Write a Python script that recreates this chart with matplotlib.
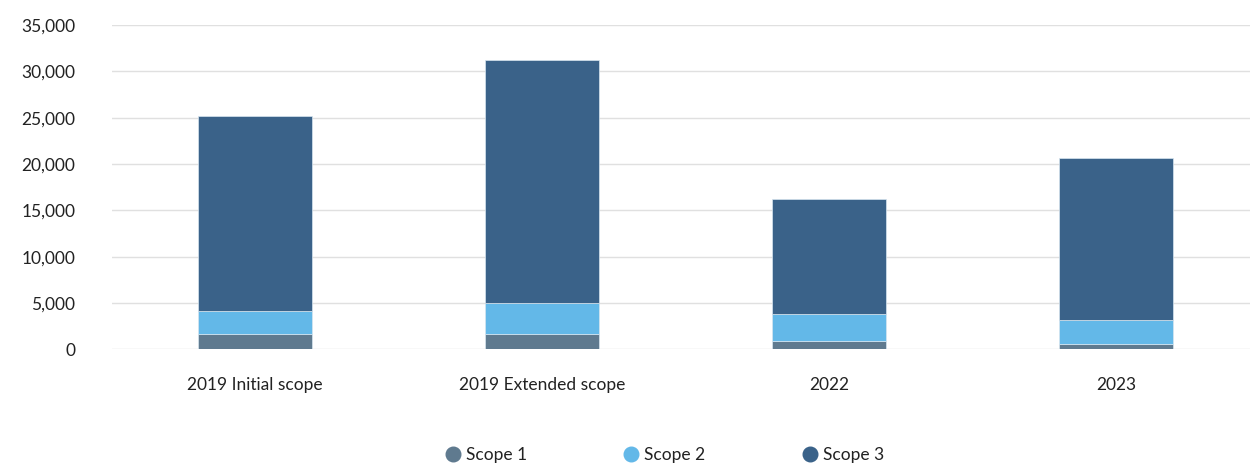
import numpy as np
import matplotlib.pyplot as plt
from matplotlib.lines import Line2D
from matplotlib.ticker import FuncFormatter

categories = ["2019 Initial scope", "2019 Extended scope", "2022", "2023"]
scope1 = [1600, 1600, 920, 600]
scope2 = [2500, 3450, 2840, 2550]
scope3 = [21100, 26150, 12490, 17500]

series = [("Scope 1", scope1, "#5F7A8F"),
          ("Scope 2", scope2, "#63B8E8"),
          ("Scope 3", scope3, "#3A6289")]

plt.rcParams['font.family'] = ['Lato', 'DejaVu Sans']

fig = plt.figure(figsize=(12.5, 4.66), dpi=100)
ax = fig.add_axes([0.0892, 0.2504, 0.9184, 0.6956])

x = np.arange(len(categories))
bottom = np.zeros(len(categories))
handles = []
for name, vals, col in series:
    ax.bar(x, vals, width=0.4, bottom=bottom, color=col,
           edgecolor="#D8E6F0", linewidth=0.5, zorder=3)
    bottom += np.array(vals)
    handles.append(Line2D([], [], marker="o", linestyle="", markersize=10.5,
                          markerfacecolor=col, markeredgecolor=col, label=name))

ax.set_xlim(-0.5, len(categories) - 0.5)
ax.set_ylim(0, 35000)
ax.set_yticks(np.arange(0, 35001, 5000))
ax.yaxis.set_major_formatter(FuncFormatter(lambda v, p: f"{int(v):,}"))
ax.set_xticks(x)
ax.set_xticklabels(categories)

ax.grid(axis="y", color="#E0E0E0", linewidth=1, zorder=0)
for s in ax.spines.values():
    s.set_visible(False)
ax.tick_params(axis="both", length=0, labelsize=12.5, colors="#222222")
ax.tick_params(axis="y", pad=26)
ax.tick_params(axis="x", pad=20)

fig.legend(handles=handles, loc="center", bbox_to_anchor=(664 / 1250, 1 - 455 / 466),
           ncol=3, frameon=False, fontsize=12.5, columnspacing=5.5,
           handlelength=1.0, handletextpad=0.25, labelcolor="#222222")

fig.savefig("out.png")
